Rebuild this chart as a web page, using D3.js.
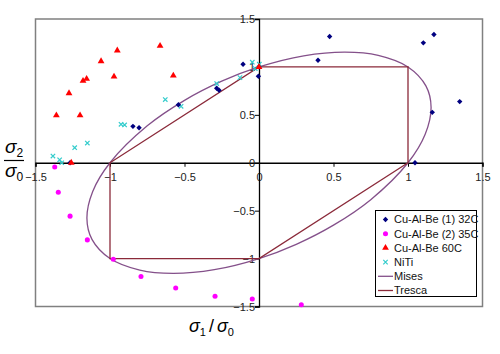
<!DOCTYPE html>
<html lang="en">
<head>
<meta charset="UTF-8">
<title>Yield surface</title>
<script src="https://d3js.org/d3.v7.min.js"></script>
<style>
  body { margin: 0; background: #fff; }
  text { font-family: "Liberation Sans", Arial, sans-serif; }
</style>
</head>
<body>
<svg width="500" height="354"></svg>
<script>
// data: [sigma1/sigma0, sigma2/sigma0]
const cuAlBe32 = [[0.474,1.317],[1.174,1.338],[1.103,1.251],[0.396,1.070],[1.347,0.638],[1.163,0.526],[1.047,0],
  [-0.107,1.028],[-0.004,0.902],[-0.284,0.777],[-0.268,0.756],[-0.541,0.606],[-0.846,0.380],[-0.805,0.366],[-1.268,0],[0,1.0]];
const cuAlBe35 = [[-1.371,-0.045],[-1.347,-0.307],[-1.268,-0.557],[-1.152,-0.805],[-0.978,-1.007],[-0.792,-1.188],
  [-0.559,-1.307],[-0.295,-1.394],[-0.045,-1.422],[0.284,-1.481]];
const cuAlBe60 = [[-0.664,1.220],[-0.951,1.171],[-1.060,1.059],[-0.973,0.899],[-0.575,0.909],[-1.157,0.875],[-1.181,0.854],
  [-1.275,0.725],[-1.360,0.495],[-1.201,0.495],[-1.26,0],[0,1.0]];
const niTi = [[-0.045,1.049],[0.002,1.028],[-0.025,0.983],[-0.128,0.888],[-0.284,0.826],[-0.629,0.659],[-0.523,0.589],
  [-0.926,0.401],[-0.902,0.394],[-1.152,0.206],[-1.237,0.157],[-1.383,0.070],[-1.338,0.031],[-1.324,0]];
// Mises ellipse, points read around the curve
const mises = [[1,0],[1.116,0.3],[1.155,0.577],[1.121,0.8],[1,1],[0.8,1.121],[0.577,1.155],[0.3,1.116],[0,1],
  [-0.25,0.851],[-0.5,0.651],[-0.75,0.385],[-1,0],[-1.116,-0.3],[-1.155,-0.577],[-1.121,-0.8],[-1,-1],[-0.8,-1.121],
  [-0.577,-1.155],[-0.3,-1.116],[0,-1],[0.25,-0.851],[0.5,-0.651],[0.75,-0.385]];
// Tresca hexagon
const tresca = [[1,0],[1,1],[0,1],[-1,0],[-1,-1],[0,-1],[1,0]];
const ticks = [-1.5,-1,-0.5,0,0.5,1,1.5];
const legendNames = ["Cu-Al-Be (1) 32C","Cu-Al-Be (2) 35C","Cu-Al-Be 60C","NiTi","Mises","Tresca"];

const colors = {c32: "#000080", c35: "#ff00ff", c60: "#ff0000", niti: "#33cccc", mises: "#84508a", tresca: "#8b2a3a"};

const svg = d3.select("svg");
const x = d3.scaleLinear().domain([-1.5, 1.5]).range([35.5, 482.5]);
const y = d3.scaleLinear().domain([-1.5, 1.5]).range([306.5, 19]);

// plot area border
svg.append("rect")
  .attr("x", x(-1.5)).attr("y", y(1.5))
  .attr("width", x(1.5) - x(-1.5)).attr("height", y(-1.5) - y(1.5))
  .attr("fill", "none").attr("stroke", "#808080").attr("stroke-width", 1.5);

// axes crossing at 0
const fmt = d => d3.format("")(d);
const xAxis = svg.append("g")
  .attr("transform", `translate(0,${y(0)})`)
  .call(d3.axisBottom(x).tickValues(ticks).tickSize(4).tickFormat(fmt));
const yAxis = svg.append("g")
  .attr("transform", `translate(${x(0)},0)`)
  .call(d3.axisLeft(y).tickValues(ticks).tickSize(4).tickFormat(fmt));
[xAxis, yAxis].forEach(g => {
  g.select(".domain").attr("stroke", "#000").attr("stroke-width", 1.3);
  g.selectAll(".tick line").attr("stroke", "#000");
  g.selectAll(".tick text").attr("font-size", 11).attr("fill", "#222")
    .attr("font-family", "'Liberation Sans', Arial, sans-serif");
});
xAxis.selectAll(".tick text").attr("dy", "0.95em").attr("y", 8);
yAxis.selectAll(".tick text").attr("x", -4);

// Mises and Tresca
svg.append("path").datum(mises)
  .attr("d", d3.line().x(d => x(d[0])).y(d => y(d[1])).curve(d3.curveCatmullRomClosed))
  .attr("fill", "none").attr("stroke", colors.mises).attr("stroke-width", 1.3);
svg.append("path").datum(tresca)
  .attr("d", d3.line().x(d => x(d[0])).y(d => y(d[1])))
  .attr("fill", "none").attr("stroke", colors.tresca).attr("stroke-width", 1.3);

// markers
const diamond = "M0,-2.7L2.7,0L0,2.7L-2.7,0Z";
const circle = d3.symbol().type(d3.symbolCircle).size(20);
const triangle = d3.symbol().type(d3.symbolTriangle).size(20);
const cross = "M-2.2,-2.2L2.2,2.2M-2.2,2.2L2.2,-2.2";

svg.append("g").selectAll("path").data(cuAlBe35).join("path")
  .attr("d", circle).attr("fill", colors.c35)
  .attr("transform", d => `translate(${x(d[0])},${y(d[1])})`);
svg.append("g").selectAll("path").data(niTi).join("path")
  .attr("d", cross).attr("fill", "none").attr("stroke", colors.niti).attr("stroke-width", 1.2)
  .attr("transform", d => `translate(${x(d[0])},${y(d[1])})`);
svg.append("g").selectAll("path").data(cuAlBe32).join("path")
  .attr("d", diamond).attr("fill", colors.c32)
  .attr("transform", d => `translate(${x(d[0])},${y(d[1])})`);
svg.append("g").selectAll("path").data(cuAlBe60).join("path")
  .attr("d", triangle).attr("fill", colors.c60)
  .attr("transform", d => `translate(${x(d[0])},${y(d[1])})`);

// axis titles
const serif = "'Liberation Serif', 'Times New Roman', serif";
const xt = svg.append("text").attr("x", 189).attr("y", 332).attr("font-family", serif).attr("font-style", "italic").attr("font-size", 18);
xt.append("tspan").text("σ");
xt.append("tspan").attr("font-size", 11).attr("font-style", "normal").attr("dy", 4).text("1");
xt.append("tspan").attr("dy", -4).attr("dx", 3).attr("font-style", "normal").text("/");
xt.append("tspan").attr("dx", 3).text("σ");
xt.append("tspan").attr("font-size", 11).attr("font-style", "normal").attr("dy", 4).text("0");

const yt1 = svg.append("text").attr("x", 5).attr("y", 153).attr("font-family", serif).attr("font-style", "italic").attr("font-size", 19);
yt1.append("tspan").text("σ");
yt1.append("tspan").attr("font-size", 12).attr("font-style", "normal").attr("dy", 4).text("2");
svg.append("line").attr("x1", 4).attr("x2", 24).attr("y1", 160.5).attr("y2", 160.5).attr("stroke", "#000").attr("stroke-width", 1.2);
const yt0 = svg.append("text").attr("x", 5).attr("y", 177).attr("font-family", serif).attr("font-style", "italic").attr("font-size", 19);
yt0.append("tspan").text("σ");
yt0.append("tspan").attr("font-size", 12).attr("font-style", "normal").attr("dy", 4).text("0");

// legend
const lg = svg.append("g");
lg.append("rect").attr("x", 375.5).attr("y", 210.5).attr("width", 101).attr("height", 86)
  .attr("fill", "#fff").attr("stroke", "#000").attr("stroke-width", 1);
const rowY = i => 219.5 + i * 14.2;
legendNames.forEach((name, i) => {
  const cy = rowY(i);
  if (i === 0) lg.append("path").attr("d", diamond).attr("fill", colors.c32).attr("transform", `translate(385.5,${cy})`);
  if (i === 1) lg.append("path").attr("d", circle).attr("fill", colors.c35).attr("transform", `translate(385.5,${cy})`);
  if (i === 2) lg.append("path").attr("d", triangle).attr("fill", colors.c60).attr("transform", `translate(385.5,${cy})`);
  if (i === 3) lg.append("path").attr("d", cross).attr("fill", "none").attr("stroke", colors.niti).attr("stroke-width", 1.2).attr("transform", `translate(385.5,${cy})`);
  if (i === 4) lg.append("line").attr("x1", 378).attr("x2", 393).attr("y1", cy).attr("y2", cy).attr("stroke", colors.mises).attr("stroke-width", 1.3);
  if (i === 5) lg.append("line").attr("x1", 378).attr("x2", 393).attr("y1", cy).attr("y2", cy).attr("stroke", colors.tresca).attr("stroke-width", 1.3);
  lg.append("text").attr("x", 394).attr("y", cy).attr("dy", "0.35em")
    .attr("font-size", 11).attr("fill", "#111").text(name);
});
</script>
</body>
</html>
